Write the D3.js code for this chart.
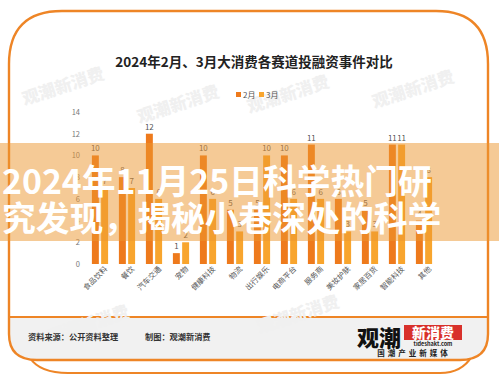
<!DOCTYPE html>
<html><head><meta charset="utf-8">
<script src="https://cdn.jsdelivr.net/npm/d3@7"></script>
<style>body{margin:0;background:#fff}svg{display:block}text{font-family:"Noto Sans CJK SC","Noto Sans",sans-serif}</style>
</head><body><svg id="c" width="499" height="384"></svg>
<script>
const categories = ["食品饮料","餐饮","汽车交通","宠物","健康科技","物流","出行娱乐","电商平台","服务商","美妆护肤","家居百货","智能科技","其他"];
const feb = [10,8,12,1,10,5,5,10,11,6,5,11,4];
const mar = [7,7,6,2,6,3,10,6,6,3,3,11,8];
const seriesNames = ["2月","3月"];
const seriesColors = ["#ee7a1c","#f8a52e"];
const yTicks = [0,2,4,6,8,10,12,14];
const title = "2024年2月、3月大消费各赛道投融资事件对比";
const overlayLines = ["2024年11月25日科学热门研","究发现，揭秘小巷深处的科学"];
const sourceText = "资料来源：公开资料整理";
const makerText = "制图：观潮新消费";

const svg = d3.select("#c");
const orange = "#ee8526";

// back card
svg.append("path").attr("d","M30,358 Q40,373 68,373 L440,373 Q462,373 472,356")
  .attr("fill","none").attr("stroke",orange).attr("stroke-width",2.2);
// card
const cardD = "M9,64 Q9,11 62,11 L436,11 Q488,11 488,64 L488,334 Q488,360 460,360 L37,360 Q9,360 9,334 Z";
svg.append("path").attr("d",cardD).attr("fill","#fff");
svg.append("path").attr("d","M9,317 L488,317 L488,334 Q488,360 460,360 L37,360 Q9,360 9,334 Z").attr("fill","#f1f1f1");
svg.append("line").attr("x1",9).attr("x2",488).attr("y1",317).attr("y2",317).attr("stroke",orange).attr("stroke-width",2);
svg.append("path").attr("d",cardD).attr("fill","none").attr("stroke",orange).attr("stroke-width",2.4);

// watermarks
const wm = [[65,92],[180,110],[290,100],[415,95],[90,330],[300,320]];
svg.append("g").selectAll("text").data(wm).join("text")
  .attr("transform",d=>`translate(${d[0]},${d[1]}) rotate(-18)`)
  .attr("text-anchor","middle").attr("font-size",17).attr("font-weight",900)
  .attr("fill","#f0f0f0").text("观潮新消费");

// title
svg.append("text").attr("x",254).attr("y",67).attr("text-anchor","middle")
  .attr("font-size",13.5).attr("font-weight",700).attr("fill","#222").text(title);

// legend
const lg = svg.append("g").attr("transform","translate(236,95)");
seriesNames.forEach((n,i)=>{
  const g = lg.append("g").attr("transform",`translate(${i*23},0)`);
  g.append("rect").attr("x",0).attr("y",-3).attr("width",5).attr("height",5).attr("fill",seriesColors[i]);
  g.append("text").attr("x",7).attr("y",0).attr("dy","0.35em").attr("font-size",8).attr("fill","#555").text(n);
});

// scales
const x = d3.scaleBand().domain(categories).range([86.5,437.5]).paddingInner(0.4).paddingOuter(0.2);
const xs = d3.scaleBand().domain([0,1]).range([0,x.bandwidth()]).paddingInner(0.25);
const y = d3.scaleLinear().domain([0,14]).range([264,112]);

// y axis
const ya = svg.append("g").attr("transform","translate(82,0)")
  .call(d3.axisLeft(y).tickValues(yTicks).tickSize(0).tickPadding(2));
ya.select(".domain").remove();
ya.selectAll("text").attr("font-size",7.5).attr("fill","#777").attr("font-family","'Noto Sans','Noto Sans CJK SC',sans-serif");

// bars
const series = [feb, mar];
const gb = svg.append("g");
series.forEach((vals,si)=>{
  gb.append("g").selectAll("rect").data(categories).join("rect")
    .attr("x",c=>x(c)+xs(si)).attr("width",xs.bandwidth())
    .attr("y",(c,i)=>y(vals[i])).attr("height",(c,i)=>y(0)-y(vals[i]))
    .attr("fill",seriesColors[si]);
  gb.append("g").selectAll("text").data(categories).join("text")
    .attr("x",c=>x(c)+xs(si)+xs.bandwidth()/2).attr("y",(c,i)=>y(vals[i])-4)
    .attr("text-anchor","middle").attr("font-size",8).attr("fill","#555")
    .attr("font-family","'Noto Sans',sans-serif")
    .text((c,i)=>vals[i]);
});

// x axis labels
const xa = svg.append("g").attr("transform","translate(0,266)")
  .call(d3.axisBottom(x).tickSize(0).tickPadding(0));
xa.select(".domain").remove();
xa.selectAll(".tick text").attr("font-size",7.5).attr("fill","#555")
  .attr("text-anchor","end").attr("dy",0).attr("x",3).attr("y",8)
  .attr("transform","rotate(-45)")
  .attr("font-family","'Noto Sans CJK SC',sans-serif");

// footer
svg.append("text").attr("x",28).attr("y",340).attr("font-size",8.2).attr("font-weight",700).attr("fill","#333").text(sourceText);
svg.append("text").attr("x",145).attr("y",340).attr("font-size",8.2).attr("font-weight",700).attr("fill","#333").text(makerText);
// logo
svg.append("text").attr("x",357).attr("y",346).attr("font-size",22).attr("font-weight",900).attr("fill","#111").text("观潮");
svg.append("rect").attr("x",404).attr("y",325).attr("width",58).attr("height",15).attr("fill","#d8312b");
svg.append("text").attr("x",433).attr("y",338).attr("text-anchor","middle").attr("font-size",14).attr("font-weight",900).attr("fill","#fff").text("新消费");
svg.append("text").attr("x",433).attr("y",346).attr("text-anchor","middle").attr("font-size",5.5).attr("font-weight",700).attr("fill","#222").attr("font-family","'Noto Sans',sans-serif").text("tideshakt.com");
svg.append("text").attr("x",414).attr("y",356).attr("text-anchor","middle").attr("font-size",7.5).attr("font-weight",700).attr("fill","#222").attr("letter-spacing",3).text("国潮产业新媒体");

// overlay band
svg.append("rect").attr("x",0).attr("y",143).attr("width",499).attr("height",98).attr("fill","rgba(236,150,45,0.5)");
svg.append("g").selectAll("text").data(overlayLines).join("text")
  .attr("x",2).attr("y",(d,i)=>194+i*37).attr("font-size",33.8).attr("font-weight",700)
  .attr("fill","#fff").text(d=>d);
</script></body></html>
